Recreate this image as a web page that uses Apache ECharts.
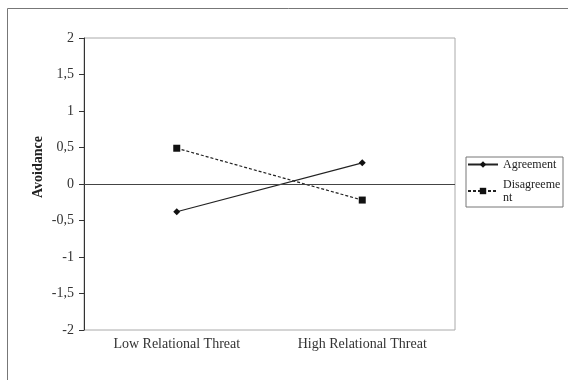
<!DOCTYPE html>
<html><head><meta charset="utf-8">
<script src="https://cdn.jsdelivr.net/npm/echarts@6/dist/echarts.min.js"></script>
<style>html,body{margin:0;padding:0;background:#fff}#c{width:568px;height:380px}</style>
</head><body><div id="c"></div>
<script>
const categories = ['Low Relational Threat', 'High Relational Threat'];
const agreement = [-0.38, 0.29];
const disagreement = [0.49, -0.22];
const yTicks = [-2, -1.5, -1, -0.5, 0, 0.5, 1, 1.5, 2];
const yTitle = 'Avoidance';

const font = 'Liberation Serif';
const chart = echarts.init(document.getElementById('c'));
chart.setOption({
  animation: false,
  backgroundColor: '#fff',
  textStyle: { fontFamily: font },
  graphic: [{
    type: 'rect', shape: { x: 7.5, y: 8.5, width: 700, height: 500 },
    style: { fill: 'none', stroke: '#777', lineWidth: 1 }, silent: true, z: -1
  }, {
    type: 'text', x: 38, y: 167, rotation: Math.PI / 2,
    style: { text: yTitle, font: 'bold 14px "Liberation Serif"', fill: '#222',
      textAlign: 'center', textVerticalAlign: 'middle' }, silent: true
  }],
  grid: { left: 84, right: 113, top: 38, bottom: 50, show: true, borderColor: '#aaa', borderWidth: 1 },
  legend: {
    orient: 'vertical', left: 466, top: 157,
    borderColor: '#777', borderWidth: 1, padding: [1, 1, 3, 1], itemGap: 7,
    itemWidth: 30, itemHeight: 8,
    textStyle: { fontFamily: font, fontSize: 12, color: '#222', width: 59, overflow: 'breakAll', lineHeight: 13 },
    data: ['Agreement', 'Disagreement']
  },
  xAxis: {
    type: 'category', data: categories, boundaryGap: true,
    axisLine: { show: false }, axisTick: { show: false },
    axisLabel: { fontFamily: font, fontSize: 14, color: '#333', margin: 7 }
  },
  yAxis: {
    type: 'value', min: -2, max: 2, interval: 0.5,
    axisLine: { show: true, lineStyle: { color: '#333' } },
    axisTick: { show: true, length: 5, lineStyle: { color: '#333' } },
    splitLine: { show: false },
    axisLabel: { fontFamily: font, fontSize: 14, color: '#333', margin: 10,
      formatter: v => yTicks.includes(v) ? String(v).replace('.', ',') : '' }
  },
  series: [{
    name: 'Agreement', type: 'line', data: agreement,
    symbol: 'diamond', symbolSize: 7,
    lineStyle: { color: '#222', width: 1.2 }, itemStyle: { color: '#111' },
    markLine: { silent: true, symbol: 'none', label: { show: false },
      lineStyle: { color: '#444', type: 'solid', width: 1 }, data: [{ yAxis: 0 }] }
  }, {
    name: 'Disagreement', type: 'line', data: disagreement,
    symbol: 'rect', symbolSize: 7,
    lineStyle: { color: '#222', width: 1.2, type: [3, 2] }, itemStyle: { color: '#111' }
  }]
});
</script></body></html>
